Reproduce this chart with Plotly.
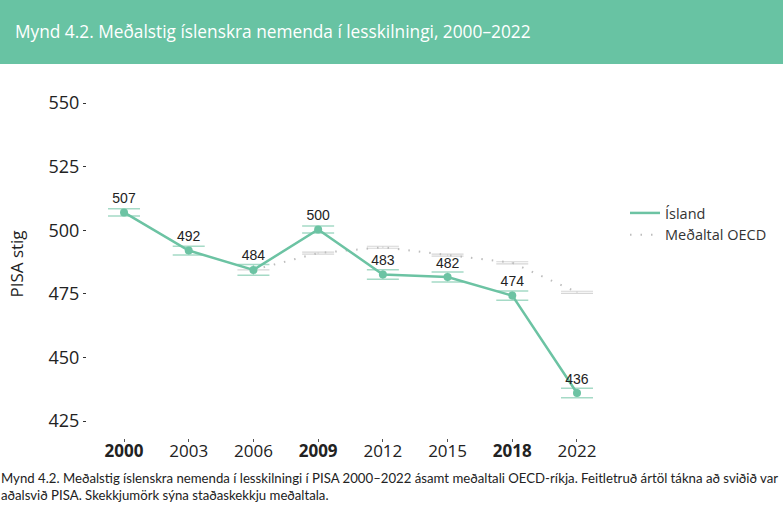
import plotly.graph_objects as go

W, H = 783, 523
years = ["2000", "2003", "2006", "2009", "2012", "2015", "2018", "2022"]
tick_labels = ["<b>2000</b>", "2003", "2006", "<b>2009</b>", "2012", "2015", "<b>2018</b>", "2022"]
iceland = [507, 492, 484.4, 500.3, 482.6, 481.6, 474.3, 436]
iceland_se = [1.4, 1.7, 2.1, 1.4, 1.9, 2.0, 1.8, 1.9]
iceland_labels = ["507", "492", "484", "500", "483", "482", "474", "436"]
oecd = [None, None, 484.4, 491, 493.3, 490.2, 487.2, 475.6]
oecd_se = [None, None, 0, 0.4, 0.4, 0.4, 0.4, 0.4]

GREEN = "#6cc3a3"
L, R, T, B = 87, 610, 90, 438
STEP = 64.7
PX_PER_UNIT = 63.6 / 25

fig = go.Figure()
fig.add_trace(go.Scatter(
    x=years, y=oecd, name="Meðaltal OECD", mode="lines",
    line=dict(color="#bdbdbd", width=2, dash="1.5px 9px"),
    error_y=dict(type="data", array=oecd_se, color="#d6d6d6", thickness=1.2, width=16),
))
fig.add_trace(go.Scatter(
    x=years, y=iceland, name="Ísland", mode="lines",
    line=dict(color=GREEN, width=2.5),
    error_y=dict(type="data", array=iceland_se, color="#a5dac6", thickness=1.5, width=16),
))
fig.add_trace(go.Scatter(
    x=years, y=iceland, mode="markers+text", showlegend=False,
    marker=dict(color=GREEN, size=8),
    text=iceland_labels, textposition="top center",
    textfont=dict(family="Liberation Sans", size=14, color="#222222"),
))

fig.update_layout(
    width=W, height=H, autosize=False,
    margin=dict(l=0, r=0, t=0, b=0),
    paper_bgcolor="white", plot_bgcolor="white",
    showlegend=True,
    legend=dict(x=625 / W, y=1 - 197 / H, xanchor="left", yanchor="top",
                font=dict(family="Open Sans", size=14.5, color="#333333"),
                traceorder="reversed", bgcolor="rgba(0,0,0,0)", itemwidth=30, tracegroupgap=0),
    xaxis=dict(
        domain=[L / W, R / W], type="category",
        categoryorder="array", categoryarray=years,
        range=[-(124 - L) / STEP, 7 + (R - 577) / STEP],
        tickmode="array", tickvals=years, ticktext=tick_labels,
        ticks="outside", ticklen=3, tickcolor="#555555", tickwidth=1,
        showgrid=False, zeroline=False, showline=False,
        ticklabelstandoff=-5,
        tickfont=dict(family="Open Sans", size=17, color="#222222"),
    ),
    yaxis=dict(
        domain=[1 - B / H, 1 - T / H],
        range=[425 - (B - 421) / PX_PER_UNIT, 550 + (103 - T) / PX_PER_UNIT],
        tickmode="array", tickvals=[425, 450, 475, 500, 525, 550],
        ticks="outside", ticklen=3, tickcolor="#333333", tickwidth=1,
        showgrid=False, zeroline=False, showline=False,
        tickfont=dict(family="Open Sans", size=18, color="#222222"),
        title=dict(text="PISA stig", font=dict(family="Open Sans", size=17, color="#222222"), standoff=20),
    ),
    shapes=[dict(type="rect", xref="paper", yref="paper", x0=0, x1=1, y0=1 - 64 / H, y1=1,
                 fillcolor="#68c3a3", line=dict(width=0), layer="below")],
    annotations=[
        dict(text="Mynd 4.2. Meðalstig íslenskra nemenda í lesskilningi, 2000–2022",
             xref="paper", yref="paper", x=13 / W, y=1 - 31 / H, xanchor="left", yanchor="middle",
             showarrow=False, font=dict(family="Open Sans", size=17.3, color="white")),
        dict(text="Mynd 4.2. Meðalstig íslenskra nemenda í lesskilningi í PISA 2000–2022 ásamt meðaltali OECD-ríkja. Feitletruð ártöl tákna að sviðið var",
             xref="paper", yref="paper", x=-1 / W, y=1 - 478 / H, xanchor="left", yanchor="middle",
             showarrow=False, font=dict(family="Lato", size=13.2, color="#222222")),
        dict(text="aðalsvið PISA. Skekkjumörk sýna staðaskekkju meðaltala.",
             xref="paper", yref="paper", x=-1 / W, y=1 - 495 / H, xanchor="left", yanchor="middle",
             showarrow=False, font=dict(family="Lato", size=13.2, color="#222222")),
    ],
)
fig.write_html("out.html", config={"displayModeBar": False}, post_script="document.body.style.margin='0';")
